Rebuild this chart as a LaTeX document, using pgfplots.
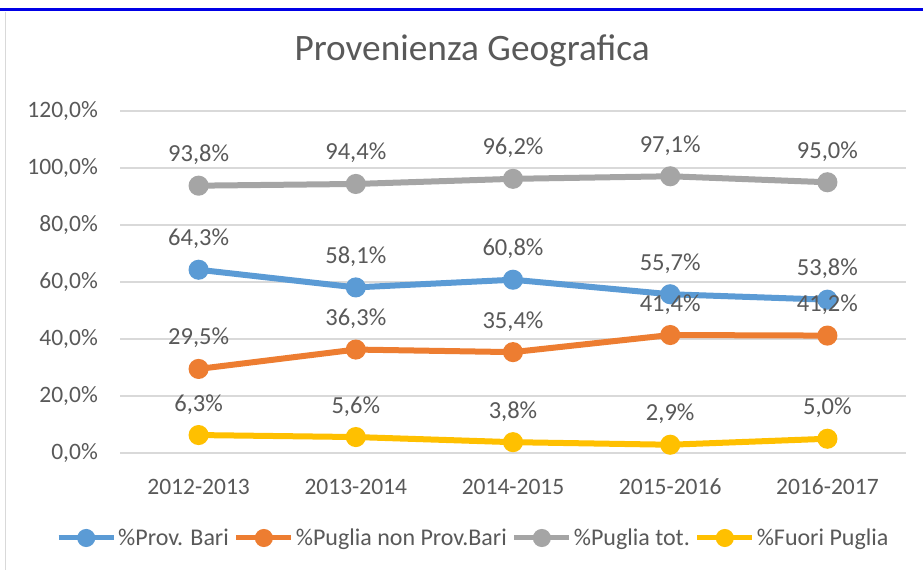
\documentclass[border=0pt]{standalone}
\usepackage{pgfplots}
\pgfplotsset{compat=1.18}
\usepackage{fontspec}
\setmainfont{Carlito}
\definecolor{cBlue}{HTML}{5B9BD5}
\definecolor{cOrange}{HTML}{ED7D31}
\definecolor{cGray}{HTML}{A5A5A5}
\definecolor{cYellow}{HTML}{FFC000}
\definecolor{txt}{HTML}{595959}
\definecolor{gridc}{HTML}{D9D9D9}
\definecolor{topblue}{RGB}{0,0,230}
\begin{document}
\begin{tikzpicture}[x=1pt,y=1pt]
\useasboundingbox (0,-570) rectangle (923,0);
\fill[white] (0,-570) rectangle (923,0);
\draw[line width=3pt, topblue] (0,-9.5) -- (923,-9.5);
\draw[line width=1pt, gridc] (5,-12) -- (5,-570);
\begin{axis}[
  at={(120pt,-453pt)}, anchor=south west,
  scale only axis, width=786pt, height=342pt,
  xmin=-0.5, xmax=4.5, ymin=0, ymax=120,
  axis line style={draw=none},
  xtick style={draw=none}, ytick style={draw=none},
  xmajorgrids=false, ymajorgrids=true,
  grid style={draw=gridc, line width=1.5pt},
  xtick={0,1,2,3,4},
  xticklabels={2012-2013,2013-2014,2014-2015,2015-2016,2016-2017},
  ytick={0,20,40,60,80,100,120},
  major tick length=0pt,
  /pgf/number format/assume math mode=true,
  yticklabel={\pgfmathprintnumber[fixed,fixed zerofill,precision=1,use comma]{\tick}\%},
  yticklabel style={anchor=east, inner sep=0pt, xshift=-22pt, font=\fontsize{23.5}{28}\selectfont, text=txt},
  xticklabel style={anchor=base, inner sep=0pt, yshift=-41pt, font=\fontsize{23.5}{28}\selectfont, text=txt},
  title={Provenienza Geografica},
  title style={at={(0.448,1)}, anchor=base, inner sep=0pt, yshift=44.3pt, font=\fontsize{37.3}{42}\selectfont, text=txt},
  nodes near coords={\pgfmathprintnumber[fixed,fixed zerofill,precision=1,use comma]{\pgfplotspointmeta}\%},
  every node near coord/.append style={anchor=base, inner sep=0pt, yshift=24pt, font=\fontsize{24.5}{28}\selectfont, text=txt},
  legend columns=4,
  legend style={at={(0.4495,-0.2485)}, anchor=center, draw=none, fill=none,
    font=\fontsize{24}{28}\selectfont, text=txt,
    /tikz/every even column/.append style={column sep=3pt},
    nodes={inner xsep=2pt, inner ysep=0pt}},
  legend image code/.code={\draw[#1, line width=5pt] (0pt,0pt) -- (55pt,0pt); \fill[#1] (27.5pt,0pt) circle (6pt);},
  every axis plot/.append style={line width=6pt, mark=*, mark size=7pt, mark options={solid}},
]
\addplot[cBlue] coordinates {(0,64.3) (1,58.1) (2,60.8) (3,55.7) (4,53.8)};
\addlegendentry{\%Prov. Bari}
\addplot[cOrange] coordinates {(0,29.5) (1,36.3) (2,35.4) (3,41.4) (4,41.2)};
\addlegendentry{\%Puglia non Prov.Bari}
\addplot[cGray] coordinates {(0,93.8) (1,94.4) (2,96.2) (3,97.1) (4,95.0)};
\addlegendentry{\%Puglia tot.}
\addplot[cYellow] coordinates {(0,6.3) (1,5.6) (2,3.8) (3,2.9) (4,5.0)};
\addlegendentry{\%Fuori Puglia}
\end{axis}
\end{tikzpicture}
\end{document}
